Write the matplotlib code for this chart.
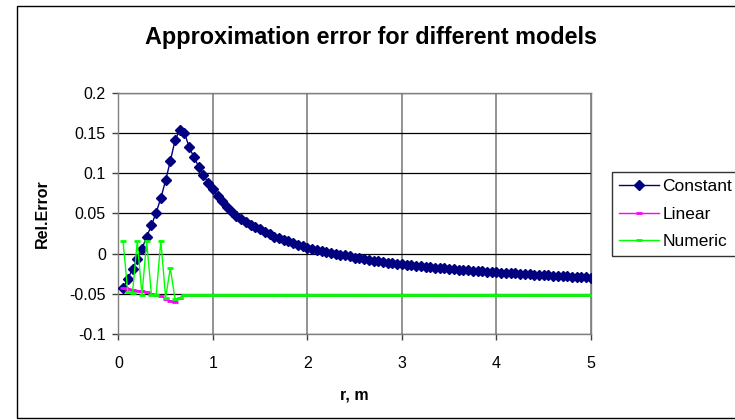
import numpy as np
import matplotlib.pyplot as plt
from matplotlib.patches import Rectangle

plt.rcParams['font.family'] = ['Liberation Sans', 'DejaVu Sans']

# radius grid, 0.05 .. 5.00
r = np.linspace(0.05, 5.0, 100)

constant = [
    -0.043, -0.032, -0.019, -0.007, 0.006, 0.021, 0.035, 0.051, 0.069, 0.091,
    0.115, 0.141, 0.154, 0.150, 0.132, 0.120, 0.108, 0.098, 0.088, 0.080,
    0.072, 0.065, 0.058, 0.052, 0.047, 0.043, 0.039, 0.036, 0.033, 0.030,
    0.027, 0.024, 0.021, 0.019, 0.017, 0.015, 0.013, 0.011, 0.009, 0.007,
    0.0058, 0.0045, 0.0033, 0.0021, 0.0010, -0.0001, -0.0012, -0.0023, -0.0036, -0.0050,
    -0.0060, -0.0070, -0.0079, -0.0088, -0.0097, -0.0105, -0.0113, -0.0121, -0.0129, -0.0136,
    -0.0142, -0.0148, -0.0154, -0.0160, -0.0166, -0.0171, -0.0176, -0.0181, -0.0186, -0.0190,
    -0.0195, -0.0199, -0.0204, -0.0208, -0.0213, -0.0217, -0.0221, -0.0225, -0.0229, -0.0235,
    -0.0237, -0.0241, -0.0244, -0.0248, -0.0251, -0.0255, -0.0258, -0.0262, -0.0265, -0.0269,
    -0.0272, -0.0275, -0.0278, -0.0282, -0.0285, -0.0288, -0.0291, -0.0294, -0.0297, -0.0300,
]

linear = [
    -0.043, -0.044, -0.045, -0.046, -0.047, -0.048, -0.050, -0.051, -0.053, -0.056,
    -0.059, -0.060, -0.055, -0.052, -0.052, -0.052, -0.052, -0.052, -0.052, -0.052,
    -0.052, -0.052, -0.052, -0.052, -0.052, -0.052, -0.052, -0.052, -0.052, -0.052,
    -0.052, -0.052, -0.052, -0.052, -0.052, -0.052, -0.052, -0.052, -0.052, -0.052,
    -0.052, -0.052, -0.052, -0.052, -0.052, -0.052, -0.052, -0.052, -0.052, -0.052,
    -0.052, -0.052, -0.052, -0.052, -0.052, -0.052, -0.052, -0.052, -0.052, -0.052,
    -0.052, -0.052, -0.052, -0.052, -0.052, -0.052, -0.052, -0.052, -0.052, -0.052,
    -0.052, -0.052, -0.052, -0.052, -0.052, -0.052, -0.052, -0.052, -0.052, -0.052,
    -0.052, -0.052, -0.052, -0.052, -0.052, -0.052, -0.052, -0.052, -0.052, -0.052,
    -0.052, -0.052, -0.052, -0.052, -0.052, -0.052, -0.052, -0.052, -0.052, -0.052,
]

numeric = [
    0.015, -0.048, -0.049, 0.015, -0.051, 0.015, -0.051, -0.052, 0.016, -0.055,
    -0.018, -0.057, -0.055, -0.052, -0.052, -0.052, -0.052, -0.052, -0.052, -0.052,
    -0.052, -0.052, -0.052, -0.052, -0.052, -0.052, -0.052, -0.052, -0.052, -0.052,
    -0.052, -0.052, -0.052, -0.052, -0.052, -0.052, -0.052, -0.052, -0.052, -0.052,
    -0.052, -0.052, -0.052, -0.052, -0.052, -0.052, -0.052, -0.052, -0.052, -0.052,
    -0.052, -0.052, -0.052, -0.052, -0.052, -0.052, -0.052, -0.052, -0.052, -0.052,
    -0.052, -0.052, -0.052, -0.052, -0.052, -0.052, -0.052, -0.052, -0.052, -0.052,
    -0.052, -0.052, -0.052, -0.052, -0.052, -0.052, -0.052, -0.052, -0.052, -0.052,
    -0.052, -0.052, -0.052, -0.052, -0.052, -0.052, -0.052, -0.052, -0.052, -0.052,
    -0.052, -0.052, -0.052, -0.052, -0.052, -0.052, -0.052, -0.052, -0.052, -0.052,
]

xticks = [0, 1, 2, 3, 4, 5]
yticks = [-0.1, -0.05, 0, 0.05, 0.1, 0.15, 0.2]
ytick_labels = ['-0.1', '-0.05', '0', '0.05', '0.1', '0.15', '0.2']

fig = plt.figure(figsize=(7.35, 4.2), dpi=100)
ax = fig.add_axes([0.161, 0.205, 0.643, 0.574])

# chart area frame
fig.patches.append(Rectangle((0.023, 0.005), 1.0, 0.981, transform=fig.transFigure,
                             fill=False, edgecolor='black', linewidth=1.0))

ax.plot(r, constant, color='#000080', marker='D', markersize=5, linewidth=1,
        label='Constant', zorder=3)
ax.plot(r, linear, color='#FF00FF', marker='_', markersize=4, markeredgewidth=2,
        linewidth=1, label='Linear', zorder=4)
ax.plot(r, numeric, color='#00FF00', marker='_', markersize=4, markeredgewidth=2,
        linewidth=1, label='Numeric', zorder=5)

ax.set_xlim(0, 5)
ax.set_ylim(-0.1, 0.2)
ax.set_xticks(xticks)
ax.set_xticklabels([str(v) for v in xticks])
ax.set_yticks(yticks)
ax.set_yticklabels(ytick_labels)

ax.yaxis.grid(True, color='black', linewidth=0.9)
ax.xaxis.grid(True, color='#808080', linewidth=1.2)
ax.set_axisbelow(True)
for s in ax.spines.values():
    s.set_color('#808080')
    s.set_linewidth(1)
ax.tick_params(axis='both', direction='out', length=4, width=1, color='#404040',
               labelsize=11.5, pad=5)
ax.tick_params(axis='x', pad=12)

ax.set_xlabel('r, m', fontsize=11.5, fontweight='bold', labelpad=12)
ax.set_ylabel('Rel.Error', fontsize=11.5, fontweight='bold', labelpad=14)
fig.text(0.505, 0.91, 'Approximation error for different models', ha='center',
         va='center', fontsize=16.8, fontweight='bold')

leg = ax.legend(loc='upper left', bbox_to_anchor=(0.833, 0.59), bbox_transform=fig.transFigure,
                frameon=True, fancybox=False, fontsize=12.5, handlelength=2.3,
                handletextpad=0.2, borderpad=0.4, labelspacing=0.7, borderaxespad=0)
leg.get_frame().set_edgecolor('black')
leg.get_frame().set_linewidth(1)

fig.savefig('out.png', dpi=100)
